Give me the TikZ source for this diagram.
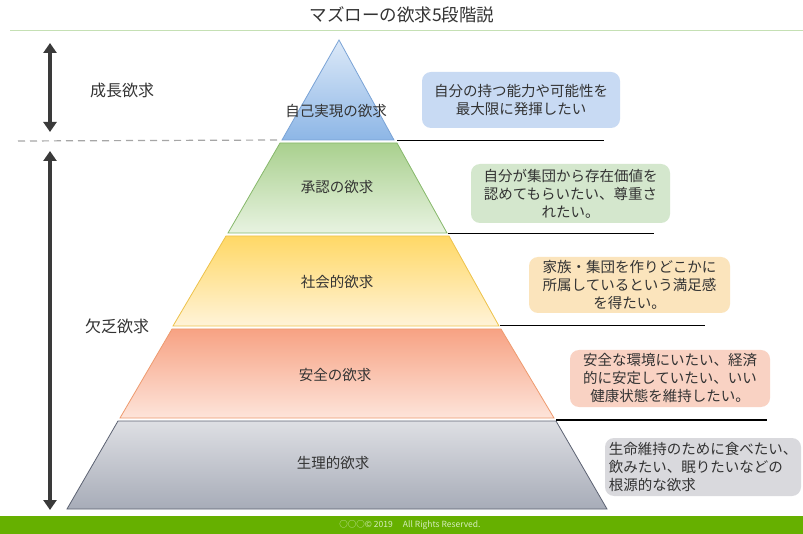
\documentclass[tikz,border=0pt]{standalone}
\usepackage{fontspec}
\setmainfont{Noto Sans CJK JP}
\usetikzlibrary{arrows.meta}
\definecolor{txt}{HTML}{333333}
\definecolor{arr}{HTML}{3A3A3A}
\definecolor{bboxc}{HTML}{C8DAF3}
\definecolor{gboxc}{HTML}{D4E7CD}
\definecolor{yboxc}{HTML}{FBE4BC}
\definecolor{oboxc}{HTML}{F9D2C3}
\definecolor{kboxc}{HTML}{D9D9DD}
\definecolor{footg}{HTML}{66B000}
\definecolor{foottxt}{HTML}{D6EDBE}
\definecolor{titleline}{HTML}{C5E0B4}
\definecolor{dashc}{HTML}{A6A6A6}
% level colours
\definecolor{bT}{HTML}{DCE9F8}\definecolor{bB}{HTML}{8DB6E6}\definecolor{bE}{HTML}{7AA3D6}
\definecolor{gT}{HTML}{A9D08E}\definecolor{gB}{HTML}{E8F3E1}\definecolor{gE}{HTML}{86B86A}
\definecolor{yT}{HTML}{FFD866}\definecolor{yB}{HTML}{FFF3D8}\definecolor{yE}{HTML}{EDC24A}
\definecolor{oT}{HTML}{F7A283}\definecolor{oB}{HTML}{FDE4DA}\definecolor{oE}{HTML}{EE9A6E}
\definecolor{kT}{HTML}{DEDFE4}\definecolor{kB}{HTML}{A7ACB8}\definecolor{kE}{HTML}{5C6272}
\tikzset{
  lvl/.style={font=\fontsize{14.5}{17}\selectfont, text=txt},
  descbox/.style={rounded corners=9pt, inner sep=0pt, font=\fontsize{14.5}{18}\selectfont, text=txt, align=center},
  sepline/.style={line width=1.3pt, black},
  bigarrow/.style={line width=4pt, color=arr, {Triangle[width=13pt,length=10pt]}-{Triangle[width=13pt,length=10pt]}},
  side/.style={font=\fontsize{16}{19}\selectfont, text=txt},
  edge/.style={line width=0.8pt},
}
\begin{document}
\begin{tikzpicture}[x=1pt,y=-1pt]
\useasboundingbox (0,0) rectangle (803,534);
\fill[white] (0,0) rectangle (803,534);
% title
\node[font=\fontsize{17.5}{20}\selectfont, text=txt] (title) at (402,15) {マズローの欲求5段階説};
\coordinate (tl1) at (10,31); \coordinate (tl2) at (803,31);
\draw[titleline, line width=1pt] (tl1) -- (tl2);
% pyramid corners
\coordinate (a0) at (339,40);
\coordinate (a1) at (282,140); \coordinate (a2) at (394,140);
\coordinate (b0) at (280,143); \coordinate (b1) at (397,143); \coordinate (b2) at (447,233); \coordinate (b3) at (228,233);
\coordinate (c0) at (226,236); \coordinate (c1) at (449,236); \coordinate (c2) at (499,326); \coordinate (c3) at (173,326);
\coordinate (d0) at (172,329); \coordinate (d1) at (501,329); \coordinate (d2) at (554,418); \coordinate (d3) at (120,418);
\coordinate (e0) at (118,421); \coordinate (e1) at (556,421); \coordinate (e2) at (607,509); \coordinate (e3) at (67,509);
% levels
\shade[top color=bT, bottom color=bB] (a0) -- (a2) -- (a1) -- cycle;
\draw[edge, bE] (a0) -- (a2) -- (a1) -- cycle;
\shade[top color=gT, bottom color=gB] (b0) -- (b1) -- (b2) -- (b3) -- cycle;
\draw[edge, gE] (b0) -- (b1) -- (b2) -- (b3) -- cycle;
\shade[top color=yT, bottom color=yB] (c0) -- (c1) -- (c2) -- (c3) -- cycle;
\draw[edge, yE] (c0) -- (c1) -- (c2) -- (c3) -- cycle;
\shade[top color=oT, bottom color=oB] (d0) -- (d1) -- (d2) -- (d3) -- cycle;
\draw[edge, oE] (d0) -- (d1) -- (d2) -- (d3) -- cycle;
\shade[top color=kT, bottom color=kB] (e0) -- (e1) -- (e2) -- (e3) -- cycle;
\draw[edge, kE] (e0) -- (e1) -- (e2) -- (e3) -- cycle;
% level labels
\node[lvl] (l1) at (336,111) {自己実現の欲求};
\node[lvl] (l2) at (337,187) {承認の欲求};
\node[lvl] (l3) at (337,282) {社会的欲求};
\node[lvl] (l4) at (335,375) {安全の欲求};
\node[lvl] (l5) at (333,463) {生理的欲求};
% separator lines
\coordinate (s1) at (397,140.5); \coordinate (s1e) at (604,140.5);
\coordinate (s2) at (448,233.5); \coordinate (s2e) at (654,233.5);
\coordinate (s3) at (500,325.5); \coordinate (s3e) at (705,325.5);
\coordinate (s4) at (556,420);   \coordinate (s4e) at (767,420);
\draw[sepline] (s1) -- (s1e);
\draw[sepline] (s2) -- (s2e);
\draw[sepline] (s3) -- (s3e);
\draw[sepline] (s4) -- (s4e);
% description boxes
\node[descbox, fill=bboxc, minimum width=198pt, minimum height=56pt] (t1) at (521,100) {自分の持つ能力や可能性を\\最大限に発揮したい};
\node[descbox, fill=gboxc, minimum width=199pt, minimum height=59pt] (t2) at (570.5,193.5) {自分が集団から存在価値を\\認めてもらいたい、尊重さ\\れたい。};
\node[descbox, fill=yboxc, minimum width=201pt, minimum height=56pt] (t3) at (629.5,285) {家族・集団を作りどこかに\\所属しているという満足感\\を得たい。};
\node[descbox, fill=oboxc, minimum width=200pt, minimum height=57pt] (t4) at (670,378.5) {安全な環境にいたい、経済\\的に安定していたい、いい\\健康状態を維持したい。};
\node[descbox, fill=kboxc, minimum width=196pt, minimum height=58pt, align=left] (t5) at (703,467) {生命維持のために食べたい、\\飲みたい、眠りたいなどの\\根源的な欲求};
% left side
\coordinate (ar1a) at (50,43); \coordinate (ar1b) at (50,132);
\coordinate (ar2a) at (50,151); \coordinate (ar2b) at (50,510);
\draw[bigarrow] (ar1a) -- (ar1b);
\draw[bigarrow] (ar2a) -- (ar2b);
\coordinate (dl1) at (18,141);
\draw[dashc, line width=1.2pt, dash pattern=on 7pt off 5pt] (dl1) -- (a1);
\node[side] (g1) at (122,90) {成長欲求};
\node[side] (g2) at (117,326) {欠乏欲求};
% footer
\fill[footg] (0,516) rectangle (803,534);
\node[font=\fontsize{8.5}{10}\selectfont, text=foottxt] (foot) at (410,525) {○○○© 2019\hspace{1.2em}All Rights Reserved.};
\end{tikzpicture}
\end{document}
